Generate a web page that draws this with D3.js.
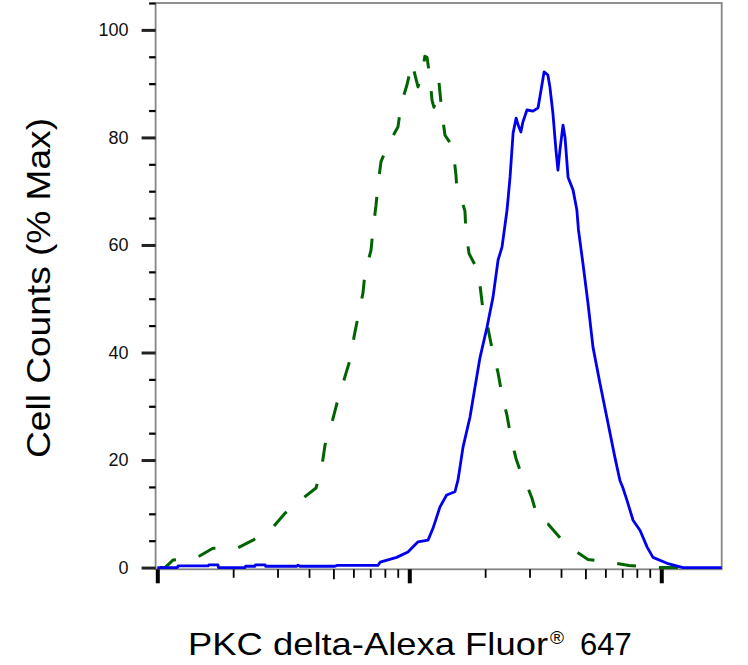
<!DOCTYPE html>
<html><head><meta charset="utf-8">
<script src="https://cdn.jsdelivr.net/npm/d3@7"></script>
<style>
body{margin:0;background:#fff}
svg{display:block}
text{font-family:"Liberation Sans",Arial,Helvetica,sans-serif}
</style>
</head><body>
<svg id="chart" width="748" height="665"></svg>
<script>
// Fluorescence intensity (arbitrary units, log axis) and % Max values
const blueX = [100,120,121,159,160,174,175,223,224,244,245,268,269,358,362,368,507,516,751,766,891,988,1083,1187,1242,1324,1407,1518,1561,1634,1742,1823,1909,2034,2149,2251,2333,2443,2512,2582,2655,2704,2773,2825,2931,3097,3243,3334,3428,3548,3614,3715,3819,3890,3963,4074,4150,4266,4467,4624,4692,4887,5117,5358,5710,6144,6546,6855,7047,7311,7727,8241,8790,9268,10540,12200,17370];
const blueY = [0,0,0.3,0.3,0.5,0.5,0,0,0.25,0.25,0.5,0.5,0.25,0.25,0.45,0.25,0.25,0.4,0.4,1.0,1.9,2.9,4.8,5.1,7.3,11.3,13.5,14.1,16.3,22.4,28.0,33.6,39.1,44.7,50.3,57.2,59.6,66.5,72.7,80.8,83.6,82.3,81.0,82.9,85.1,84.9,85.5,88.8,92.2,91.6,89.4,84.5,77.7,73.9,77.7,82.3,80.0,72.6,70.2,66.5,62.8,56.6,49.2,41.0,34.3,26.9,20.5,16.2,14.8,12.5,8.8,6.9,3.8,1.9,0.8,0,0];

const greenX = [102.5,107.3,115.4,143.7,166.3,207.2,239.8,285.3,321.2,378.6,426.5,450.5,463.0,493.5,516.5,550.7,581.7,603.4,625.8,655.1,667.2,704.7,717.8,737.8,751.4,772.2,823.3,902.2,927.3,979.3,1025,1054,1083,1134,1153,1176,1208,1231,1253,1312,1348,1386,1437,1477,1505,1532,1547,1604,1663,1679,1726,1823,1908,1961,2053,2149,2249,2333,2442,2533,2651,2750,2879,3068,3183,3302,3551,3787,4036,4382,5118,6200,7443,9186,10828,12997];
const greenY = [0,0,1.4,1.9,3.6,3.6,5.1,7.3,10.1,12.9,14.8,19.0,22.8,27.0,30.6,34.9,38.6,42.9,46.6,51.1,54.8,59.0,62.8,67.4,71.2,75.5,78.6,82.0,86.1,89.8,93.9,91.6,89.4,93.0,95.1,94.9,91.1,86.9,85.6,90.2,84.5,80.4,79.3,78.2,76.2,73.0,69.9,68.8,66.3,62.4,58.4,56.3,52.5,47.9,44.5,39.8,36.3,32.1,28.3,24.1,20.3,18.1,16.2,12.9,10.3,8.4,8.1,6.6,5.1,3.6,1.5,1.0,0.4,0,0,0];

const yMajorTicks = [0,20,40,60,80,100];
const yTickLabels = ["0","20","40","60","80","100"];
const yMinorTicks = [5,10,15,25,30,35,45,50,55,65,70,75,85,90,95,105];
const xDomain = [98.46, 17370];
const yDomain = [-0.32, 105];
const xTitleMain = "PKC delta-Alexa Fluor";
const xTitleSup = "\u00AE";
const xTitleEnd = "647";
const yTitle = "Cell Counts (% Max)";

const svg = d3.select("#chart");
const L = 155.6, R = 721.7, T = 3, B = 569.3;

const x = d3.scaleLog().domain(xDomain).range([L, R]);
const y = d3.scaleLinear().domain(yDomain).range([B, T]);

// frame
svg.append("rect").attr("x", L).attr("y", T).attr("width", R - L).attr("height", B - T)
  .attr("fill", "none").attr("stroke", "#858585").attr("stroke-width", 1.8);

// curves
const line = d3.line().x(d => x(d[0])).y(d => y(d[1]));
const greenData = greenX.map((v, i) => [v, greenY[i]]);
const blueData = blueX.map((v, i) => [v, blueY[i]]);

svg.append("path").datum(greenData).attr("d", line)
  .attr("fill", "none").attr("stroke", "#006400").attr("stroke-width", 3)
  .attr("stroke-dasharray", "19,23").attr("stroke-linejoin", "round");

svg.append("path").datum(blueData).attr("d", line)
  .attr("fill", "none").attr("stroke", "#0000ee").attr("stroke-width", 2.8)
  .attr("stroke-linejoin", "round");

// x axis (log, unlabeled)
const xTicks = x.ticks();
const lead = d => Math.round(d / Math.pow(10, Math.floor(Math.log10(d) + 1e-9)));
const gx = svg.append("g").attr("transform", `translate(0,${B})`)
  .call(d3.axisBottom(x).tickValues(xTicks).tickFormat(() => "").tickSizeOuter(0).tickSize(8.5));
gx.select(".domain").remove();
gx.selectAll(".tick line")
  .attr("stroke", "#000")
  .attr("y2", d => lead(d) === 1 ? 14 : (lead(d) === 5 ? 10 : 8.5))
  .attr("stroke-width", d => lead(d) === 1 ? 4 : 1.8);

// y axis major
const gy = svg.append("g").attr("transform", `translate(${L},0)`)
  .call(d3.axisLeft(y).tickValues(yMajorTicks).tickFormat((d, i) => yTickLabels[i])
    .tickSize(14).tickPadding(13).tickSizeOuter(0));
gy.select(".domain").remove();
gy.selectAll(".tick line").attr("stroke", "#222").attr("stroke-width", 3);
gy.selectAll(".tick text").attr("font-size", 18).attr("fill", "#111")
  .attr("font-family", "'Liberation Sans', Arial, sans-serif");

// y axis minor
const gym = svg.append("g").attr("transform", `translate(${L},0)`)
  .call(d3.axisLeft(y).tickValues(yMinorTicks).tickFormat(() => "").tickSize(6.5).tickSizeOuter(0));
gym.select(".domain").remove();
gym.selectAll(".tick line").attr("stroke", "#000").attr("stroke-width", 2.2);

// titles
svg.append("text").attr("x", 188).attr("y", 655).attr("font-size", 32)
  .attr("textLength", 360).attr("lengthAdjust", "spacingAndGlyphs").text(xTitleMain);
svg.append("text").attr("x", 550).attr("y", 644).attr("font-size", 19).text(xTitleSup);
svg.append("text").attr("x", 580).attr("y", 655).attr("font-size", 31).text(xTitleEnd);

svg.append("text").attr("transform", "translate(50,288) rotate(-90)")
  .attr("text-anchor", "middle").attr("font-size", 34)
  .attr("textLength", 340).attr("lengthAdjust", "spacingAndGlyphs").text(yTitle);
</script>
</body></html>
